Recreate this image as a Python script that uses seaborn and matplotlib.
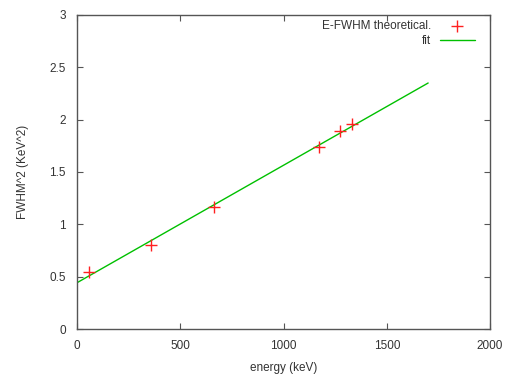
import matplotlib
matplotlib.use("Agg")
import matplotlib.pyplot as plt
import pandas as pd
import seaborn as sns

# measured points (energy in keV, FWHM^2 in keV^2)
energy = [59.5, 356, 662, 1173, 1275, 1332]
fwhm2 = [0.542, 0.803, 1.163, 1.742, 1.895, 1.959]

# fitted line end points
fit_energy = [0, 1700]
fit_fwhm2 = [0.442, 2.35]

pts = pd.DataFrame({"energy": energy, "fwhm2": fwhm2})
fit = pd.DataFrame({"energy": fit_energy, "fwhm2": fit_fwhm2})

sns.set_style("white")
plt.rcParams["font.family"] = ["Liberation Sans", "DejaVu Sans"]
plt.rcParams["font.size"] = 8.5

fig = plt.figure(figsize=(5.1, 3.74), dpi=100)
ax = fig.add_axes([0.151, 0.1203, 0.810, 0.8397])

sns.scatterplot(data=pts, x="energy", y="fwhm2", marker="+", s=64, color="#ff2020",
                linewidth=1.0, label="E-FWHM theoretical.", ax=ax, zorder=3)
sns.lineplot(data=fit, x="energy", y="fwhm2", color="#00c000", linewidth=1.0,
             label="fit", ax=ax, zorder=2)

ax.set_xlim(0, 2000)
ax.set_ylim(0, 3)
ax.set_xticks([0, 500, 1000, 1500, 2000])
ax.set_yticks([0, 0.5, 1, 1.5, 2, 2.5, 3])
ax.set_yticklabels(["0", "0.5", "1", "1.5", "2", "2.5", "3"])
ax.set_xlabel("energy (keV)", color="#333333", labelpad=7)
ax.set_ylabel("FWHM^2 (KeV^2)", color="#333333", labelpad=15)

for s in ax.spines.values():
    s.set_color("#555555")
    s.set_linewidth(1.0)
ax.tick_params(direction="in", length=4, width=0.8, color="#555555", labelcolor="#333333",
               top=True, right=True, bottom=True, left=True, pad=8)

leg = ax.legend(loc="upper right", frameon=False, markerfirst=False, handlelength=3.0,
                bbox_to_anchor=(0.975, 1.0), borderaxespad=0.0, labelspacing=0.3,
                handletextpad=0.7)
for t in leg.get_texts():
    t.set_ha("right")
    t.set_color("#333333")

fig.savefig("out.png", dpi=100)
